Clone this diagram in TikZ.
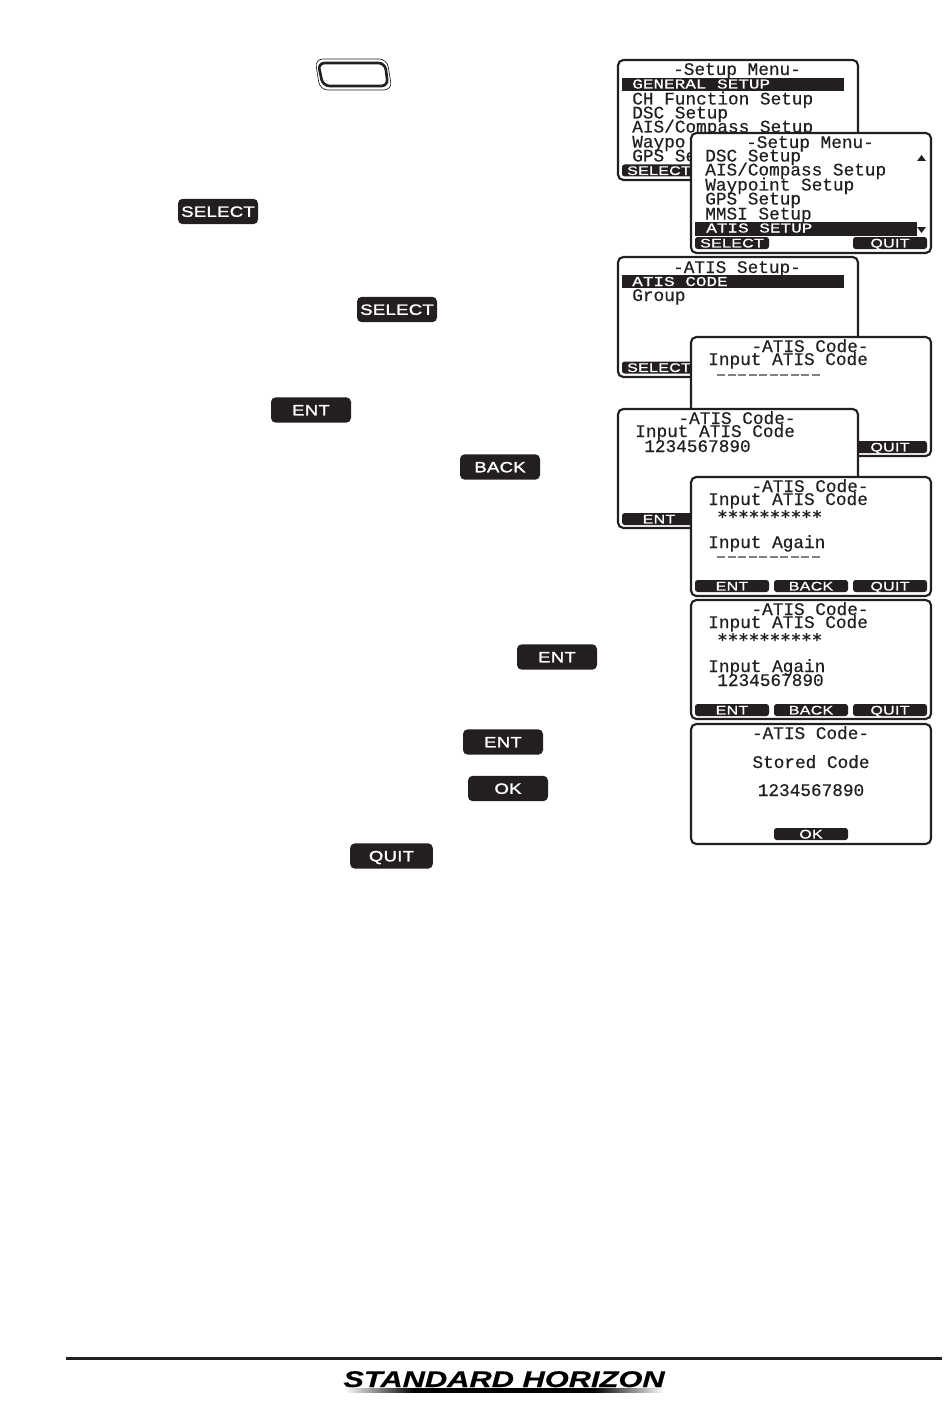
\documentclass[tikz,border=0pt]{standalone}
\usepackage{fontspec}
\newfontfamily\lcdfont[FakeBold=0.4]{Liberation Mono}
\newfontfamily\starfont{DejaVu Sans Mono Bold}
\newfontfamily\hifont[FakeStretch=1.3,FakeBold=0.8]{Liberation Mono}
\newfontfamily\softfont[FakeStretch=1.28,FakeBold=1.2,LetterSpace=3]{Liberation Sans}
\newfontfamily\keyfont[FakeStretch=1.24,FakeBold=1.6,LetterSpace=2]{Liberation Sans}
\newfontfamily\logofont[FakeStretch=1.36,FakeBold=0.5]{Liberation Sans Bold Italic}
\definecolor{keyblack}{HTML}{231F20}
\pgfdeclarehorizontalshading{logobar}{100bp}{color(0bp)=(white); color(25bp)=(white); color(36bp)=(black); color(64bp)=(black); color(75bp)=(white); color(100bp)=(white)}
\tikzset{
    lcdscreen/.style={draw=keyblack, fill=white, line width=1.6pt, rounded corners=4pt},
    hibar/.style={fill=keyblack},
    lcdtext/.style={anchor=base west, inner sep=0pt, text=keyblack, font=\lcdfont\fontsize{13.3pt}{14pt}\selectfont},
    lcdtitle/.style={lcdtext, anchor=base},
    lcdstars/.style={lcdtext, font=\starfont\fontsize{13.1pt}{14pt}\selectfont},
    hitext/.style={anchor=base west, inner sep=0pt, text=white, font=\hifont\fontsize{10.2pt}{12pt}\selectfont},
    softkey/.style={fill=keyblack, rounded corners=2pt, inner sep=0pt, minimum width=55.5pt, minimum height=9pt, text height=6.7pt, text depth=0pt, text=white, font=\softfont\fontsize{9.3pt}{10pt}\selectfont},
    keybtn/.style={fill=keyblack, rounded corners=3.5pt, inner sep=0pt, minimum width=60pt, minimum height=19pt, text height=8pt, text depth=0pt, text=white, font=\keyfont\fontsize{11.2pt}{12pt}\selectfont},
    lcddash/.style={draw=gray, line width=0.9pt, dash pattern=on 6pt off 1.9pt}
}
\begin{document}
\begin{tikzpicture}[x=0.75pt, y=-0.75pt]
    \useasboundingbox (0, 0) rectangle (950, 1402);

    % keys on the left
    \draw[keyblack, line width=0.5pt, rounded corners=6pt] (315, 59) -- (387, 59) -- (392, 90) -- (320, 90) -- cycle;
    \draw[keyblack, line width=2pt, rounded corners=5pt] (318, 63) -- (385, 63) -- (388, 86) -- (323, 86) -- cycle;
    \node[keybtn] (sel1) at (218, 211.5) {SELECT};
    \node[keybtn] (sel2) at (397, 309.5) {SELECT};
    \node[keybtn] (ent1) at (311, 410) {ENT};
    \node[keybtn] (back1) at (500, 467) {BACK};
    \node[keybtn] (ent2) at (557, 657) {ENT};
    \node[keybtn] (ent3) at (503, 742) {ENT};
    \node[keybtn] (ok1) at (508, 788.5) {OK};
    \node[keybtn, minimum width=62pt] (quit1) at (391.5, 856) {QUIT};

    % setup menu
    \draw[lcdscreen] (618, 60) rectangle (858, 180);
    \node[lcdtitle] (a0) at (737, 75) {-Setup Menu-};
    \fill[hibar] (622, 78) rectangle (844, 91);
    \node[hitext] (a1) at (632, 88.5) {GENERAL SETUP};
    \node[lcdtext] (a2) at (632, 104.5) {CH Function Setup};
    \node[lcdtext] (a3) at (632, 118.5) {DSC Setup};
    \node[lcdtext] (a4) at (632, 132.5) {AIS/Compass Setup};
    \node[lcdtext] (a5) at (632, 147.5) {Waypo};
    \node[lcdtext] (a6) at (632, 161.5) {GPS Se};
    \node[softkey] (a7) at (659, 170.5) {SELECT};

    % setup menu, scrolled
    \draw[lcdscreen] (691, 133) rectangle (931, 253);
    \node[lcdtitle] (b0) at (810, 148) {-Setup Menu-};
    \node[lcdtext] (b1) at (705, 161.5) {DSC Setup};
    \node[lcdtext] (b2) at (705, 175.5) {AIS/Compass Setup};
    \node[lcdtext] (b3) at (705, 190.5) {Waypoint Setup};
    \node[lcdtext] (b4) at (705, 204.5) {GPS Setup};
    \node[lcdtext] (b5) at (705, 219.5) {MMSI Setup};
    \fill[hibar] (695, 222) rectangle (917, 236);
    \node[hitext] (b6) at (706, 232.5) {ATIS SETUP};
    \fill[keyblack] (917, 161) -- (926, 161) -- (921.5, 155) -- cycle;
    \fill[keyblack] (917, 227) -- (926, 227) -- (921.5, 233) -- cycle;
    \node[softkey] (b7) at (732, 243) {SELECT};
    \node[softkey] (b8) at (890, 243) {QUIT};

    % atis setup
    \draw[lcdscreen] (618, 257) rectangle (858, 377);
    \node[lcdtitle] (c0) at (737, 273) {-ATIS Setup-};
    \fill[hibar] (622, 275) rectangle (844, 288);
    \node[hitext] (c1) at (632, 286) {ATIS CODE};
    \node[lcdtext] (c2) at (632, 301) {Group};
    \node[softkey] (c3) at (659, 367.5) {SELECT};

    % atis code, empty
    \draw[lcdscreen] (691, 337) rectangle (931, 456);
    \node[lcdtitle] (d0) at (810, 352) {-ATIS Code-};
    \node[lcdtext] (d1) at (708, 365) {Input ATIS Code};
    \draw[lcddash] (717, 375) -- (822, 375);
    \node[softkey] (d2) at (890, 447) {QUIT};

    % atis code, typed
    \draw[lcdscreen] (618, 409) rectangle (858, 528);
    \node[lcdtitle] (e0) at (737, 424) {-ATIS Code-};
    \node[lcdtext] (e1) at (635, 437) {Input ATIS Code};
    \node[lcdtext] (e2) at (644, 452) {1234567890};
    \node[softkey] (e3) at (659, 519) {ENT};

    % atis code, again
    \draw[lcdscreen] (691, 477) rectangle (931, 596);
    \node[lcdtitle] (f0) at (810, 492) {-ATIS Code-};
    \node[lcdtext] (f1) at (708, 505) {Input ATIS Code};
    \node[lcdstars] (f2) at (717, 523) {**********};
    \node[lcdtext] (f3) at (708, 548) {Input Again};
    \draw[lcddash] (717, 557) -- (822, 557);
    \node[softkey] (f4) at (732, 586) {ENT};
    \node[softkey] (f5) at (811, 586) {BACK};
    \node[softkey] (f6) at (890, 586) {QUIT};

    % atis code, again typed
    \draw[lcdscreen] (691, 600) rectangle (931, 719);
    \node[lcdtitle] (g0) at (810, 615) {-ATIS Code-};
    \node[lcdtext] (g1) at (708, 628) {Input ATIS Code};
    \node[lcdstars] (g2) at (717, 646) {**********};
    \node[lcdtext] (g3) at (708, 672) {Input Again};
    \node[lcdtext] (g4) at (717, 686) {1234567890};
    \node[softkey] (g5) at (732, 710) {ENT};
    \node[softkey] (g6) at (811, 710) {BACK};
    \node[softkey] (g7) at (890, 710) {QUIT};

    % atis code, stored
    \draw[lcdscreen] (691, 724) rectangle (931, 844);
    \node[lcdtitle] (h0) at (810.5, 739) {-ATIS Code-};
    \node[lcdtitle] (h1) at (811, 768) {Stored Code};
    \node[lcdtitle] (h2) at (811, 796) {1234567890};
    \node[softkey] (h3) at (811, 834) {OK};

    % footer
    \fill[keyblack] (66, 1357) rectangle (942, 1360);
    \node[anchor=base, inner sep=0pt, text=black, font=\logofont\fontsize{17pt}{18pt}\selectfont] (logo) at (504, 1387) {STANDARD HORIZON};
    \shade[shading=logobar] (344, 1388) rectangle (664, 1392);
\end{tikzpicture}
\end{document}
